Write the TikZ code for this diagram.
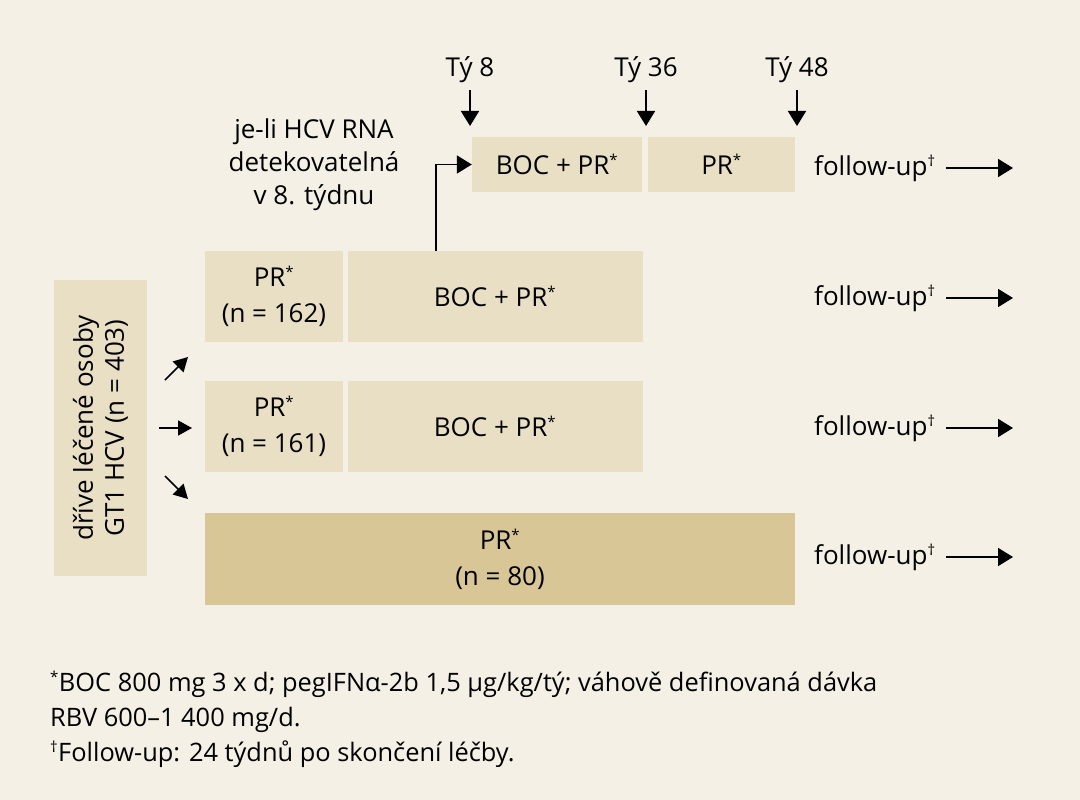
\documentclass[tikz,border=0pt]{standalone}
\usepackage{fontspec}
\setmainfont{Open Sans}
\usetikzlibrary{arrows.meta}
\definecolor{bg}{HTML}{F4F0E6}
\definecolor{boxl}{HTML}{E9DFC5}
\definecolor{boxd}{HTML}{D8C697}
\tikzset{
  lbox/.style={fill=boxl, draw=none, inner sep=0pt, align=center, font=\fontsize{26}{36}\selectfont},
  dbox/.style={fill=boxd, draw=none, inner sep=0pt, align=center, font=\fontsize{26}{36}\selectfont},
  txt/.style={inner sep=0pt, align=center, font=\fontsize{26}{33}\selectfont},
  arr/.style={line width=1.8pt, -{Triangle[width=18pt,length=15pt]}},
  sarr/.style={line width=1.5pt, -{Triangle[width=15pt,length=14pt]}},
}
\newcommand{\st}{\textsuperscript{\fontsize{15}{15}\selectfont *}}
\newcommand{\dg}{\textsuperscript{\fontsize{15}{15}\selectfont †}}
\begin{document}
\begin{tikzpicture}[x=1pt,y=-1pt]
\fill[bg] (0,0) rectangle (1080,800);
\useasboundingbox (0,0) rectangle (1080,800);
% left box
\node[lbox, minimum width=93pt, minimum height=296pt] (grp) at (100.5,428) {};
\node[txt, rotate=90, font=\fontsize{26}{31}\selectfont] (grpt) at (grp.center) {dříve léčené osoby\\GT1 HCV (n = 403)};
% row 1
\node[lbox, minimum width=138pt, minimum height=91pt] (r1a) at (274,296.5) {PR\st\\(n = 162)};
\node[lbox, minimum width=295pt, minimum height=91pt] (r1b) at (495,296.5) {BOC + PR\st};
% row 2
\node[lbox, minimum width=138pt, minimum height=91pt] (r2a) at (274,426.5) {PR\st\\(n = 161)};
\node[lbox, minimum width=295pt, minimum height=91pt] (r2b) at (495,426.5) {BOC + PR\st};
% row 3
\node[dbox, minimum width=590pt, minimum height=92pt] (r3) at (500,559) {PR\st\\(n = 80)};
% top row
\node[lbox, minimum width=170pt, minimum height=55pt] (t1) at (557,164.5) {BOC + PR\st};
\node[lbox, minimum width=147pt, minimum height=55pt] (t2) at (721.5,164.5) {PR\st};
% week labels
\node[txt] (w8) at (470,70) {Tý 8};
\node[txt] (w36) at (646,70) {Tý 36};
\node[txt] (w48) at (797,70) {Tý 48};
\coordinate (w8e) at (470,126);
\coordinate (w36e) at (646,126);
\coordinate (w48e) at (797,126);
\draw[arr] (470,90) -- (w8e);
\draw[arr] (646,90) -- (w36e);
\draw[arr] (797,90) -- (w48e);
% condition text
\node[txt] (cond) at (314,165) {je-li HCV RNA\\detekovatelná\\v 8. týdnu};
% elbow arrow
\draw[arr] (436,251) |- (t1.west);
% follow-up labels
\foreach \n/\y in {f1/168,f2/298,f3/428,f4/557}{
  \node[txt, anchor=west] (\n) at (814,\y) {follow-up\dg};
  \coordinate (\n e) at (1013,\y);
  \draw[arr] (946,\y) -- (\n e);
}
% left arrows
\coordinate (a1s) at (165,380);
\coordinate (a1e) at (188,357);
\coordinate (a2s) at (159,428);
\coordinate (a2e) at (192,428);
\coordinate (a3s) at (165,476);
\coordinate (a3e) at (188,499);
\draw[sarr] (a1s) -- (a1e);
\draw[sarr] (a2s) -- (a2e);
\draw[sarr] (a3s) -- (a3e);
% footnotes
\node[txt, anchor=west, align=left, font=\fontsize{25.4}{35}\selectfont] (fn) at (50,719) {\st BOC 800 mg 3 x d; pegIFNα-2b 1,5 µg/kg/tý; váhově definovaná dávka\\RBV 600–1 400 mg/d.\\\dg Follow-up: 24 týdnů po skončení léčby.};
\end{tikzpicture}
\end{document}
